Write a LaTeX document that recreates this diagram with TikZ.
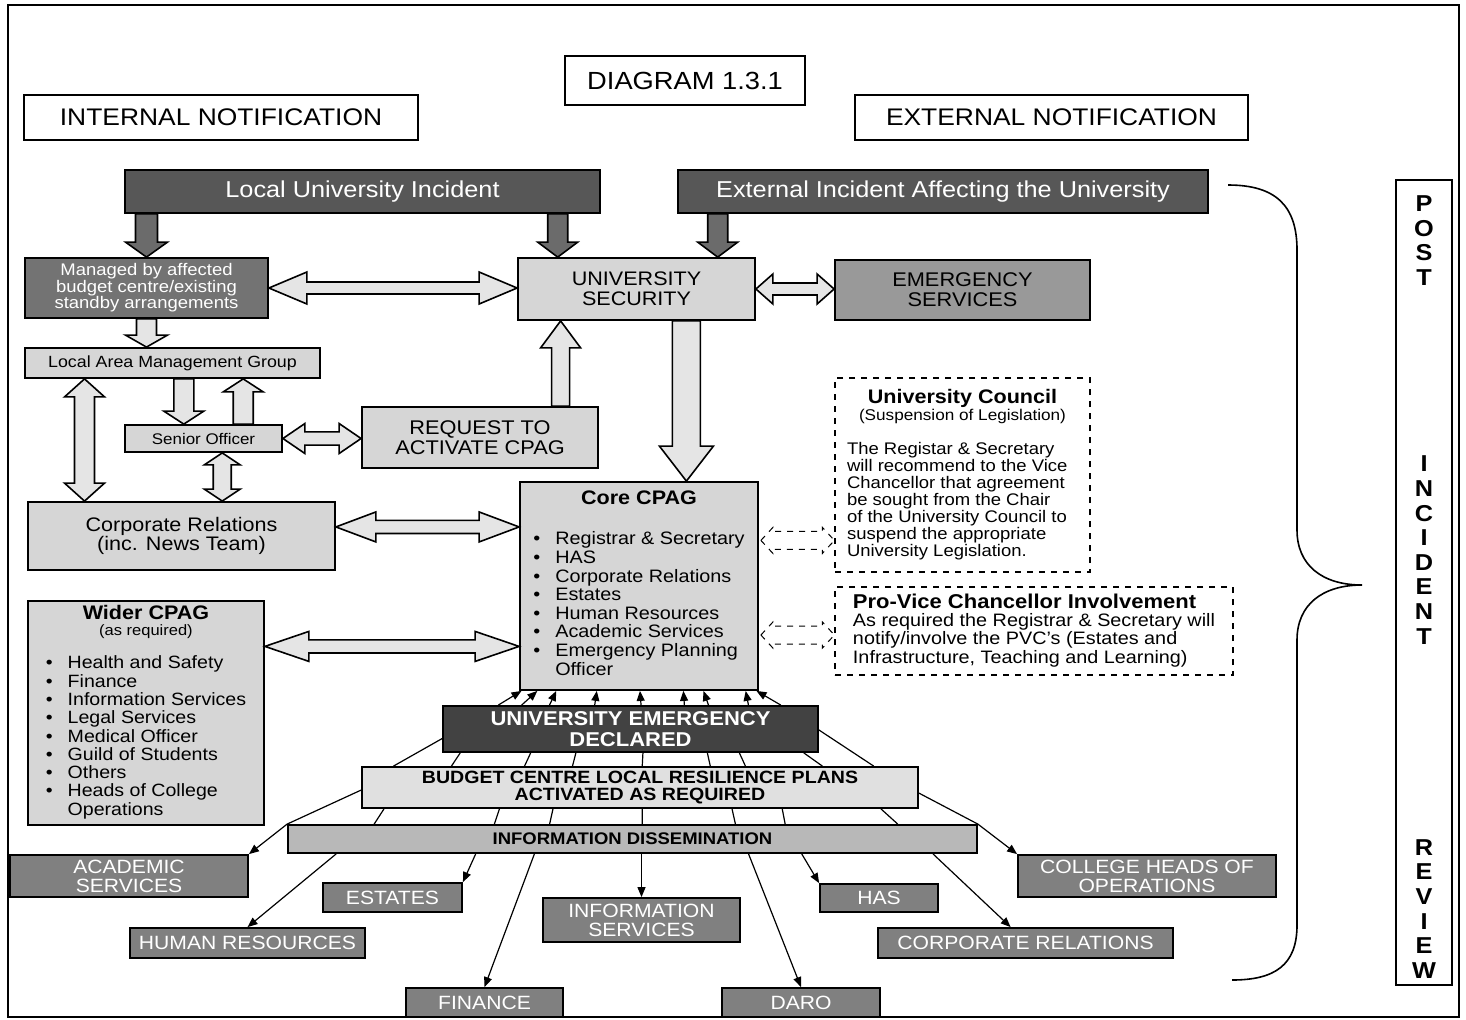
\documentclass[tikz,border=0pt]{standalone}
\usepackage{fontspec}
\setmainfont{Liberation Sans}[FakeStretch=1.1]
\usetikzlibrary{calc}
\usetikzlibrary{positioning, arrows.meta}

\newcommand{\fsz}[2]{\fontsize{#1}{#2}\selectfont}

% block arrows: [style]{from}{to}{half shaft}{half head}{head length}
\newcommand{\blockarrow}[6][blk]{%
\path[#1] let \p1=#2, \p2=#3, \n1={atan2(\y2-\y1,\x2-\x1)}, \n2={veclen(\x2-\x1,\y2-\y1)} in
 ($(\p1)+(\n1+90:#4)$) -- ++(\n1:{\n2-#6}) -- ++(\n1+90:{#5-#4}) -- (\p2)
 -- ($(\p2)+(\n1+180:#6)+(\n1-90:#5)$) -- ++(\n1+90:{#5-#4}) -- ($(\p1)+(\n1-90:#4)$) -- cycle;}
\newcommand{\dblockarrow}[6][blk]{%
\path[#1] let \p1=#2, \p2=#3, \n1={atan2(\y2-\y1,\x2-\x1)}, \n2={veclen(\x2-\x1,\y2-\y1)} in
 (\p1) -- ($(\p1)+(\n1:#6)+(\n1+90:#5)$) -- ++(\n1-90:{#5-#4}) -- ++(\n1:{\n2-2*#6})
 -- ++(\n1+90:{#5-#4}) -- (\p2) -- ($(\p2)+(\n1+180:#6)+(\n1-90:#5)$) -- ++(\n1+90:{#5-#4})
 -- ++(\n1+180:{\n2-2*#6}) -- ++(\n1-90:{#5-#4}) -- cycle;}

\tikzset{
  box/.style={draw, line width=0.9pt, inner sep=0pt, align=center},
  wh/.style 2 args={minimum width=#1*0.5pt, minimum height=#2*0.5pt},
  lightbox/.style={box, fill=black!16},
  darkbox/.style={box, fill=black!66, text=white},
  midbox/.style={box, fill=black!50, text=white, font=\fsz{9.6}{9.5}},
  labelbox/.style={draw, line width=0.7pt, inner sep=0pt},
  notebox/.style={draw, dashed, line width=0.6pt, inner sep=0pt},
  blk/.style={draw, line width=0.8pt, fill=black!10, line join=miter},
  blkdark/.style={blk, fill=black!58},
  blkdash/.style={draw, dashed, line width=0.5pt},
  fanline/.style={line width=0.6pt},
  fanarrow/.style={line width=0.6pt, -{Triangle[length=5pt,width=4pt]}},
  pirtext/.style={inner sep=0pt, align=center, font=\bfseries\fsz{11.5}{12.3}}
}

\begin{document}
\begin{tikzpicture}[x=0.5pt, y=-0.5pt]
\useasboundingbox (0,0) rectangle (1466,1019);
\draw[line width=1pt] (8,5) rectangle (1459,1017);

\node[labelbox, wh={240}{49}, font=\fsz{12.4}{14}] (diag) at (685,80.5) {DIAGRAM 1.3.1};
\node[labelbox, wh={394}{45}, font=\fsz{12}{14}] (intn) at (221,117.5) {INTERNAL NOTIFICATION};
\node[labelbox, wh={393}{45}, font=\fsz{12}{14}] (extn) at (1051.5,117.5) {EXTERNAL NOTIFICATION};

\node[darkbox, wh={475}{43}, font=\fsz{11.5}{13}] (lui) at (362.5,191.5) {Local University Incident};
\node[darkbox, wh={530}{43}, font=\fsz{11.5}{13}] (eia) at (943,191.5) {External Incident Affecting the University};
\node[box, fill=black!55, text=white, wh={243}{60}, font=\fsz{8.4}{8.2}] (mgd) at (146.5,288) {Managed by affected\\budget centre/existing\\standby arrangements};
\node[lightbox, wh={237}{62}, font=\fsz{9.8}{10}] (sec) at (636.5,289) {UNIVERSITY\\SECURITY};
\node[box, fill=black!40, wh={255}{60}, font=\fsz{9.9}{10}] (ems) at (962.5,290) {EMERGENCY\\SERVICES};
\node[lightbox, wh={295}{30}, font=\fsz{8.1}{9}] (lamg) at (172.5,363) {Local Area Management Group};
\node[lightbox, wh={157}{27}, font=\fsz{7.7}{9}] (sen) at (203.5,438.5) {Senior Officer};
\node[lightbox, wh={236}{61}, font=\fsz{9.9}{8.6}] (req) at (480,437.5) {REQUEST TO\\ACTIVATE CPAG};
\node[lightbox, wh={307}{68}, font=\fsz{9.8}{9.5}] (cr) at (181.5,536) {Corporate Relations\\(inc. News Team)};

\node[lightbox, wh={238}{208}, font=\fsz{9}{9.3}] (core) at (639,586) {%
\begin{tabular}{@{}c@{\hspace{7.5pt}}l@{}}
\multicolumn{2}{c}{\fsz{9.8}{9.3}\bfseries Core CPAG}\\[10.7pt]
\textbullet & Registrar \& Secretary\\
\textbullet & HAS\\
\textbullet & Corporate Relations\\
\textbullet & Estates\\
\textbullet & Human Resources\\
\textbullet & Academic Services\\
\textbullet & Emergency Planning\\
 & Officer
\end{tabular}};

\node[notebox, wh={255}{194}, font=\fsz{8.4}{8}] (council) at (962.5,475) {%
\begin{tabular}{@{}l@{}}
\multicolumn{1}{c}{\fsz{9.8}{8}\bfseries University Council}\\[0.5pt]
\multicolumn{1}{c}{\fsz{7.8}{8}(Suspension of Legislation)}\\[8.5pt]
The Registar \& Secretary\\
will recommend to the Vice\\
Chancellor that agreement\\
be sought from the Chair\\
of the University Council to\\
suspend the appropriate\\
University Legislation.
\end{tabular}};

\node[notebox, wh={398}{88}, font=\fsz{9}{8.75}] (pvc) at (1034,631) {%
\begin{tabular}{@{}l@{}}
{\fsz{10}{8.75}\bfseries Pro-Vice Chancellor Involvement}\\
As required the Registrar \& Secretary will\\
notify/involve the PVC's (Estates and\\
Infrastructure, Teaching and Learning)
\end{tabular}};

\node[lightbox, wh={236}{224}, font=\fsz{8.9}{9}] (wider) at (146,713) {%
\begin{tabular}{@{}c@{\hspace{7.5pt}}l@{}}
\multicolumn{2}{c}{\fsz{9.8}{9}\bfseries Wider CPAG}\\[-1pt]
\multicolumn{2}{c}{\fsz{7.5}{9}(as required)}\\[7.5pt]
\textbullet & Health and Safety\\
\textbullet & Finance\\
\textbullet & Information Services\\
\textbullet & Legal Services\\
\textbullet & Medical Officer\\
\textbullet & Guild of Students\\
\textbullet & Others\\
\textbullet & Heads of College\\
 & Operations
\end{tabular}};

\node[box, fill=black!74, text=white, wh={375}{46}, font=\bfseries\fsz{10}{10.6}] (ued) at (630.5,729) {UNIVERSITY EMERGENCY\\DECLARED};
\node[lightbox, fill=black!12, wh={556}{41}, font=\bfseries\fsz{8.9}{8.9}] (bc) at (640,787.5) {BUDGET CENTRE LOCAL RESILIENCE PLANS\\ACTIVATED AS REQUIRED};
\node[box, fill=black!28, wh={689}{28}, font=\bfseries\fsz{8.4}{9}] (idn) at (632.5,839) {INFORMATION DISSEMINATION};

\node[midbox, wh={238}{42}] (acad) at (129,876) {ACADEMIC\\SERVICES};
\node[midbox, wh={139}{29}] (est) at (392.5,897.5) {ESTATES};
\node[midbox, wh={235}{30}] (hr) at (247.5,943) {HUMAN RESOURCES};
\node[midbox, wh={157}{29}] (fin) at (484.5,1002.5) {FINANCE};
\node[midbox, wh={197}{44}] (isv) at (641.5,920) {INFORMATION\\SERVICES};
\node[midbox, wh={158}{29}] (daro) at (801,1002.5) {DARO};
\node[midbox, wh={118}{28}] (has) at (879,898) {HAS};
\node[midbox, wh={295}{30}] (corp) at (1025.5,943) {CORPORATE RELATIONS};
\node[midbox, wh={258}{42}] (chop) at (1147,876) {COLLEGE HEADS OF\\OPERATIONS};

\node[labelbox, wh={56}{805}] (pir) at (1424,582.5) {};
\node[pirtext, below=8pt of pir.north] {P\\O\\S\\T};
\node[pirtext] at ($(pir.center)+(0,-32.5)$) {I\\N\\C\\I\\D\\E\\N\\T};
\node[pirtext, above=3.5pt of pir.south] {R\\E\\V\\I\\E\\W};

\draw[line width=0.8pt] (1228,185) .. controls (1275,185) and (1297,205) .. (1297,250) -- (1297,530)
  .. controls (1297,565) and (1322,585) .. (1362,585) .. controls (1322,585) and (1297,605) .. (1297,640)
  -- (1297,925) .. controls (1297,965) and (1275,980) .. (1232,980);

\coordinate (secin1) at ($(sec.north west)!0.17!(sec.north east)$);
\coordinate (secin2) at ($(sec.north west)!0.84!(sec.north east)$);
\coordinate (senin) at ($(sen.north west)!0.376!(sen.north east)$);
\coordinate (senout) at ($(sen.north west)!0.75!(sen.north east)$);
\coordinate (senlow) at ($(sen.south west)!0.618!(sen.south east)$);
\coordinate (crtop) at ($(cr.north west)!0.186!(cr.north east)$);
\coordinate (crside) at ($(cr.north east)!0.37!(cr.south east)$);
\coordinate (reqtop) at ($(req.north west)!0.839!(req.north east)$);
\coordinate (secout) at ($(sec.south west)!0.709!(sec.south east)$);
\coordinate (widerside) at ($(wider.north east)!0.205!(wider.south east)$);
\coordinate (councilin) at ($(council.north west)!0.835!(council.south west)$);
\coordinate (pvcin) at ($(pvc.north west)!0.545!(pvc.south west)$);

\blockarrow[blkdark]{(lui.south -| mgd.north)}{(mgd.north)}{5.5pt}{10.5pt}{7.5pt}
\blockarrow[blkdark]{(lui.south -| secin1)}{(secin1)}{5pt}{10pt}{7.5pt}
\blockarrow[blkdark]{(eia.south -| secin2)}{(secin2)}{5pt}{10pt}{7.5pt}
\dblockarrow{(mgd.east)}{(sec.west |- mgd.east)}{3pt}{8pt}{19pt}
\dblockarrow{(sec.east)}{(ems.west |- sec.east)}{3pt}{7.5pt}{8.5pt}
\blockarrow{(mgd.south)}{(mgd.south |- lamg.north)}{5pt}{10.5pt}{6pt}
\blockarrow{(lamg.south -| senin)}{(senin)}{5pt}{10pt}{6.5pt}
\blockarrow{(senout)}{(lamg.south -| senout)}{5pt}{10pt}{6.5pt}
\dblockarrow{(lamg.south -| crtop)}{(crtop)}{5pt}{10pt}{9pt}
\dblockarrow{(sen.east)}{(req.west |- sen.east)}{3.3pt}{7.5pt}{11pt}
\blockarrow{(reqtop)}{(sec.south -| reqtop)}{4.5pt}{10pt}{13.5pt}
\dblockarrow{(senlow)}{(cr.north -| senlow)}{4.5pt}{9pt}{6pt}
\blockarrow{(secout)}{(core.north -| secout)}{7pt}{13.5pt}{17.5pt}
\dblockarrow{(crside)}{(core.west |- crside)}{3.3pt}{7.5pt}{20pt}
\dblockarrow{(widerside)}{(core.west |- widerside)}{3.3pt}{7.5pt}{22pt}
\dblockarrow[blkdash]{($(core.east |- councilin)+(2,0)$)}{(councilin)}{4.5pt}{6.5pt}{6pt}
\dblockarrow[blkdash]{($(core.east |- pvcin)+(2,0)$)}{(pvcin)}{4.5pt}{6.5pt}{6pt}

\foreach \a/\b in {0.149/0.01, 0.211/0.076, 0.285/0.155, 0.405/0.324, 0.528/0.504, 0.643/0.685, 0.707/0.769, 0.813/0.945, 0.899/0.99}
  \draw[fanarrow] ($(ued.north west)!\a!(ued.north east)$) -- ($(core.south west)!\b!(core.south east)$);
\foreach \a/\b in {0.048/0.162, 0.235/0.293, 0.355/0.379, 0.533/0.504, 0.704/0.626, 0.789/0.689, 0.96/0.827}
  \draw[fanline] ($(bc.north west)!\b!(bc.north east)$) -- ($(ued.south west)!\a!(ued.south east)$);
\draw[fanline] ($(ued.north west)!0.7!(ued.south west)$) -- ($(bc.north west)!0.058!(bc.north east)$);
\draw[fanline] ($(ued.north east)!0.52!(ued.south east)$) -- ($(bc.north west)!0.919!(bc.north east)$);
\foreach \a/\b in {0.041/0.126, 0.248/0.300, 0.344/0.380, 0.504/0.514, 0.665/0.649, 0.755/0.721, 0.932/0.884}
  \draw[fanline] ($(bc.south west)!\a!(bc.south east)$) -- ($(idn.north west)!\b!(idn.north east)$);
\draw[fanline] ($(bc.north west)!0.56!(bc.south west)$) -- (idn.north west);
\draw[fanline] ($(bc.north east)!0.63!(bc.south east)$) -- (idn.north east);

\draw[fanarrow] (idn.north west) -- (acad.north east);
\draw[fanarrow] ($(idn.south west)!0.071!(idn.south east)$) -- (hr.north);
\draw[fanarrow] ($(idn.south west)!0.273!(idn.south east)$) -- (est.north east);
\draw[fanarrow] ($(idn.south west)!0.358!(idn.south east)$) -- (fin.north);
\draw[fanarrow] (isv.north |- idn.south) -- (isv.north);
\draw[fanarrow] ($(idn.south west)!0.668!(idn.south east)$) -- (daro.north);
\draw[fanarrow] ($(idn.south west)!0.745!(idn.south east)$) -- (has.north west);
\draw[fanarrow] ($(idn.south west)!0.935!(idn.south east)$) -- ($(corp.north west)!0.45!(corp.north east)$);
\draw[fanarrow] (idn.north east) -- (chop.north west);

\end{tikzpicture}
\end{document}
